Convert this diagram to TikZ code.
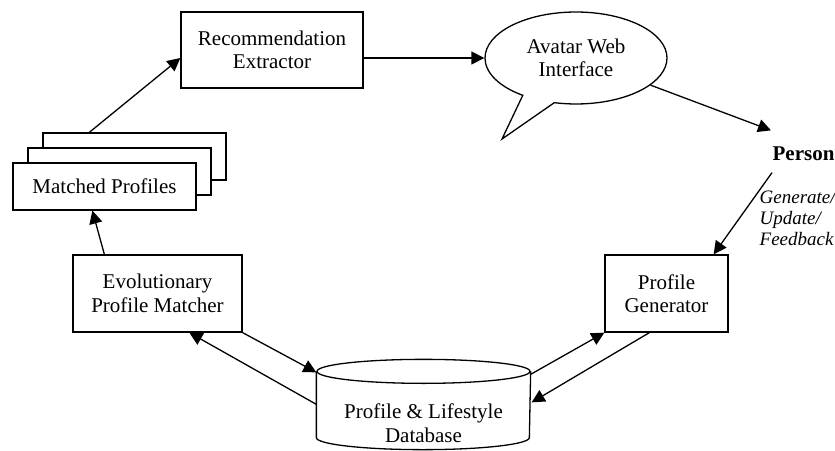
\documentclass[tikz,border=0pt]{standalone}
\usepackage{fontspec}
\setmainfont{Liberation Serif}
\usetikzlibrary{shapes.callouts,arrows.meta,calc}

\begin{document}
\begin{tikzpicture}[x=1pt,y=-1pt,
  line width=1.3pt,
  txt/.style={font=\fontsize{21}{23.5}\selectfont},
  box/.style={txt, draw, rectangle, inner sep=0pt, align=center},
  stack/.style={box, fill=white, minimum width=183pt, minimum height=47pt},
  flow/.style={-{Triangle[length=13pt,width=13pt]}},
]
\useasboundingbox (0,0) rectangle (835,450);

% process boxes
\node[box, minimum width=182pt, minimum height=76pt] (re) at (272,50) {Recommendation\\Extractor};
\node[box, minimum width=169pt, minimum height=77pt] (epm) at (157.5,293.5) {Evolutionary\\Profile Matcher};
\node[box, minimum width=123pt, minimum height=77pt] (pg) at (666.5,293.5) {Profile\\Generator};

% stacked result sheets
\node[stack] (mp3) at (134.5,156.5) {};
\node[stack] (mp2) at (119.5,171.5) {};
\node[stack] (mp1) at (104.5,186.5) {Matched Profiles};

% speech-bubble interface
\node[txt, ellipse callout, draw, inner sep=0pt, align=center,
      minimum width=182pt, minimum height=92pt,
      callout absolute pointer={(502,139)}, callout pointer arc=22]
      (av) at (576,58) {Avatar Web\\Interface};

% user and feedback label
\node[font=\bfseries\fontsize{21}{23.5}\selectfont, anchor=west, inner sep=0pt] (person) at (772,154) {Person};
\node[font=\itshape\fontsize{19}{21}\selectfont, align=left, anchor=north west, inner sep=0pt] (lbl) at (759,190) {Generate/\\Update/\\Feedback};

% database cylinder
\node[inner sep=0pt, minimum width=213pt, minimum height=89pt] (db) at (423.5,404.5) {};
\node[txt, align=center, inner sep=0pt] (dbl) at (423.5,423) {Profile \& Lifestyle\\Database};
\draw ($(db.north)+(0,12)$) ellipse [x radius=106.5, y radius=12];
\draw ($(db.north west)+(0,12)$) -- ($(db.south west)+(0,-12)$)
      arc[start angle=180, end angle=0, x radius=106.5, y radius=12]
      -- ($(db.north east)+(0,12)$);

% data flow
\draw[flow] ($(mp3.north west)+(47,0)$) -- ($(re.west)+(0,8)$);
\draw[flow] (re.east |- av.west) -- (av.west);
\draw[flow] (av.-20) -- ($(person.north west)+(-1,-16)$);
\draw[flow] ($(person.south west)+(0,11)$) -- ($(pg.north east)+(-15,0)$);
\draw[flow] ($(epm.north west)+(32,0)$) -- ($(mp1.south west)+(80,0)$);
\draw[flow] (epm.south east) -- ($(db.north west)+(0,13)$);
\draw[flow] ($(db.north west)+(0,45)$) -- ($(epm.south west)+(117,0)$);
\draw[flow] ($(db.north east)+(0,15)$) -- (pg.south west);
\draw[flow] ($(pg.south west)+(45,0)$) -- ($(db.north east)+(1,43)$);
\end{tikzpicture}
\end{document}
